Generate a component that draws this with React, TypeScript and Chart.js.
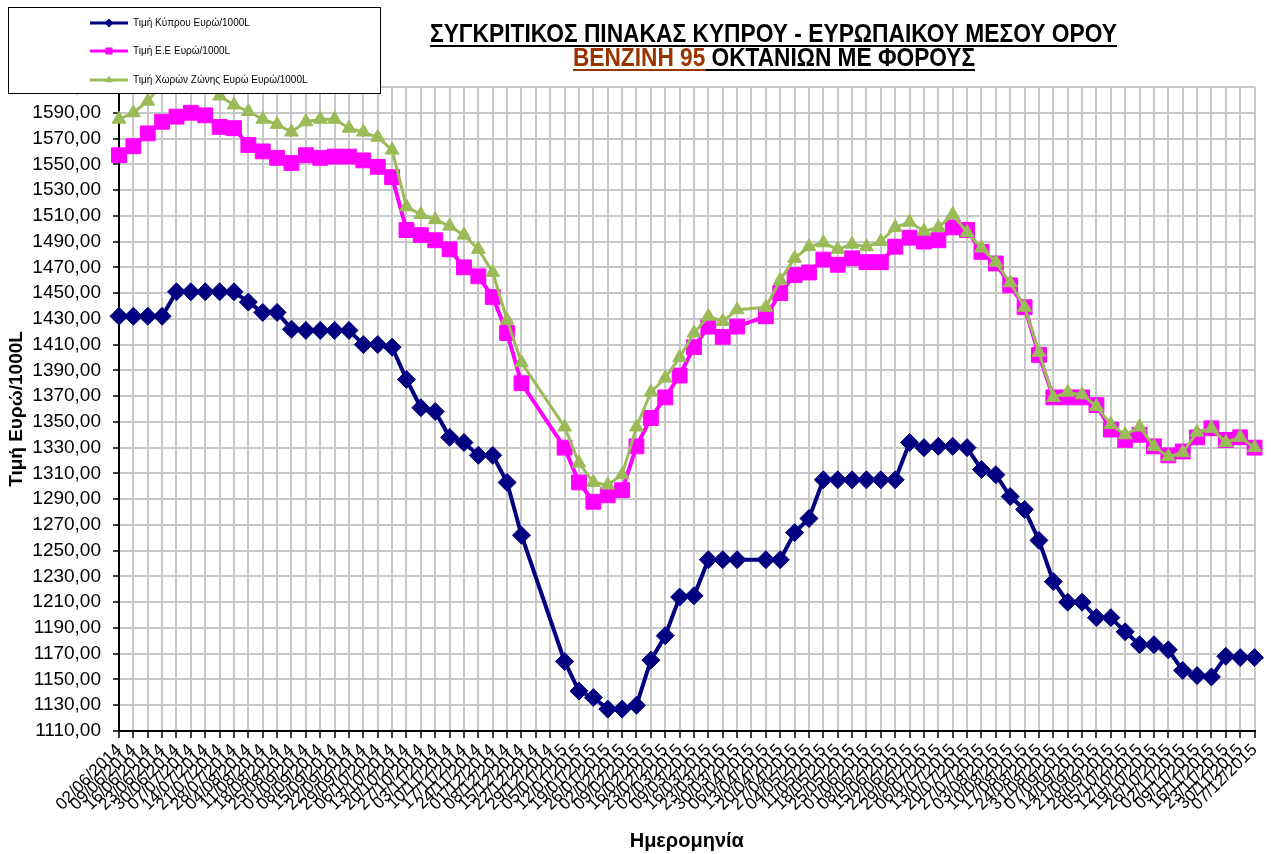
import React, { useEffect, useRef } from 'react';
import { Chart, registerables } from 'chart.js';

Chart.register(...registerables);

// ---------- DATA ----------
const dateLabels: string[] = [
  '02/06/2014', '09/06/2014', '16/06/2014', '23/06/2014', '30/06/2014', '07/07/2014', '14/07/2014', '21/07/2014',
  '28/07/2014', '04/08/2014', '11/08/2014', '18/08/2014', '25/08/2014', '01/09/2014', '08/09/2014', '15/09/2014',
  '22/09/2014', '29/09/2014', '06/10/2014', '13/10/2014', '20/10/2014', '27/10/2014', '03/11/2014', '10/11/2014',
  '17/11/2014', '24/11/2014', '01/12/2014', '08/12/2014', '15/12/2014', '22/12/2014', '29/12/2014', '05/01/2015',
  '12/01/2015', '19/01/2015', '26/01/2015', '02/02/2015', '09/02/2015', '16/02/2015', '23/02/2015', '02/03/2015',
  '09/03/2015', '16/03/2015', '23/03/2015', '30/03/2015', '06/04/2015', '13/04/2015', '20/04/2015', '27/04/2015',
  '04/05/2015', '11/05/2015', '18/05/2015', '25/05/2015', '01/06/2015', '08/06/2015', '15/06/2015', '22/06/2015',
  '29/06/2015', '06/07/2015', '13/07/2015', '20/07/2015', '27/07/2015', '03/08/2015', '10/08/2015', '17/08/2015',
  '24/08/2015', '31/08/2015', '07/09/2015', '14/09/2015', '21/09/2015', '28/09/2015', '05/10/2015', '12/10/2015',
  '19/10/2015', '26/10/2015', '02/11/2015', '09/11/2015', '16/11/2015', '23/11/2015', '30/11/2015', '07/12/2015',
];

const cyprusPrice: (number | null)[] = [
  1432, 1432, 1432, 1432, 1451, 1451, 1451, 1451, 1451, 1443, 1435, 1435, 1422, 1421, 1421, 1421,
  1421, 1410, 1410, 1408, 1383, 1361, 1358, 1338, 1334, 1324, 1324, 1303, 1262, null, null, 1164,
  1141, 1136, 1127, 1127, 1130, 1165, 1184, 1214, 1215, 1243, 1243, 1243, null, 1243, 1243, 1264,
  1275, 1305, 1305, 1305, 1305, 1305, 1305, 1334, 1330, 1331, 1331, 1330, 1313, 1309, 1292, 1282,
  1258, 1226, 1210, 1210, 1198, 1198, 1187, 1177, 1177, 1173, 1157, 1153, 1152, 1168, 1167, 1167,
];

const euPrice: (number | null)[] = [
  1557, 1564, 1574, 1583, 1587, 1590, 1588, 1579, 1578, 1565, 1560, 1555, 1551, 1557, 1555, 1556,
  1556, 1553, 1548, 1540, 1499, 1495, 1491, 1484, 1470, 1463, 1447, 1419, 1380, null, null, 1330,
  1303, 1288, 1293, 1297, 1331, 1353, 1369, 1386, 1408, 1424, 1416, 1424, null, 1432, 1450, 1464,
  1466, 1476, 1472, 1477, 1474, 1474, 1486, 1493, 1490, 1491, 1501, 1499, 1482, 1473, 1456, 1439,
  1402, 1369, 1369, 1369, 1363, 1344, 1336, 1340, 1331, 1324, 1327, 1338, 1345, 1336, 1338, 1330,
];

const euroZonePrice: (number | null)[] = [
  1585, 1590, 1599, 1613, 1616, 1616, 1613, 1603, 1596, 1591, 1585, 1581, 1575, 1583, 1585, 1585,
  1578, 1575, 1571, 1561, 1517, 1511, 1507, 1502, 1495, 1484, 1466, 1429, 1396, null, null, 1346,
  1318, 1303, 1301, 1309, 1346, 1373, 1384, 1400, 1419, 1432, 1428, 1437, null, 1439, 1460, 1477,
  1486, 1489, 1484, 1488, 1486, 1490, 1501, 1505, 1498, 1501, 1511, 1497, 1485, 1474, 1458, 1439,
  1404, 1369, 1373, 1371, 1362, 1348, 1340, 1346, 1331, 1323, 1326, 1342, 1345, 1334, 1338, 1330,
];

const seriesNames: string[] = [
  'Τιμή Κύπρου Ευρώ/1000L',
  'Τιμή Ε.Ε Ευρώ/1000L',
  'Τιμή Χωρών Ζώνης Ευρώ Ευρώ/1000L',
];
const seriesColors: string[] = ['#000080', '#FF00FF', '#9BBB59'];

const yMin = 1110;
const yMax = 1610;
const yStep = 20;

const titleLine1 = 'ΣΥΓΚΡΙΤΙΚΟΣ ΠΙΝΑΚΑΣ ΚΥΠΡΟΥ - ΕΥΡΩΠΑΙΚΟΥ ΜΕΣΟΥ ΟΡΟΥ';
const titleLine2Colored = 'ΒΕΝΖΙΝΗ 95';
const titleLine2Rest = ' ΟΚΤΑΝΙΩΝ ΜΕ ΦΟΡΟΥΣ';
const yAxisTitle = 'Τιμή Ευρώ/1000L';
const xAxisTitle = 'Ημερομηνία';

const BASE_FONT = '"Liberation Sans", Arial, sans-serif';
const TITLE_FONT = 'bold 25px "Liberation Sans", Arial, sans-serif';

type Seg = { text: string; color: string };

function drawFittedLine(ctx: CanvasRenderingContext2D, segs: Seg[], cx: number, baseline: number, targetW: number) {
  ctx.save();
  ctx.font = TITLE_FONT;
  ctx.textBaseline = 'alphabetic';
  ctx.textAlign = 'left';
  const widths = segs.map((s) => ctx.measureText(s.text).width);
  const total = widths.reduce((a, b) => a + b, 0);
  const sx = targetW / total;
  ctx.translate(cx - targetW / 2, baseline);
  ctx.scale(sx, 1);
  let x = 0;
  segs.forEach((s, i) => {
    ctx.fillStyle = s.color;
    ctx.fillText(s.text, x, 0);
    ctx.fillRect(x, 3, widths[i], 2);
    x += widths[i];
  });
  ctx.restore();
}

const titlePlugin = {
  id: 'customTitle',
  afterDraw(chart: any) {
    const ctx: CanvasRenderingContext2D = chart.ctx;
    drawFittedLine(ctx, [{ text: titleLine1, color: '#000000' }], 773.5, 42, 687);
    drawFittedLine(
      ctx,
      [
        { text: titleLine2Colored, color: '#993300' },
        { text: titleLine2Rest, color: '#000000' },
      ],
      774,
      66,
      402
    );
  },
};

function drawMarker(ctx: CanvasRenderingContext2D, kind: number, cx: number, cy: number, color: string) {
  ctx.fillStyle = color;
  ctx.beginPath();
  if (kind === 0) {
    const r = 4.5;
    ctx.moveTo(cx, cy - r);
    ctx.lineTo(cx + r, cy);
    ctx.lineTo(cx, cy + r);
    ctx.lineTo(cx - r, cy);
    ctx.closePath();
  } else if (kind === 1) {
    ctx.rect(cx - 3.5, cy - 3.5, 7, 7);
  } else {
    const r = 4.5;
    ctx.moveTo(cx, cy - r);
    ctx.lineTo(cx + r * 0.866, cy + r * 0.5);
    ctx.lineTo(cx - r * 0.866, cy + r * 0.5);
    ctx.closePath();
  }
  ctx.fill();
}

const legendPlugin = {
  id: 'customLegend',
  afterDraw(chart: any) {
    const ctx: CanvasRenderingContext2D = chart.ctx;
    ctx.save();
    ctx.fillStyle = '#ffffff';
    ctx.fillRect(8, 7, 372, 86);
    ctx.strokeStyle = '#000000';
    ctx.lineWidth = 1;
    ctx.strokeRect(8.5, 7.5, 372, 86);
    const rows = [23, 51, 80];
    ctx.font = `10px ${BASE_FONT}`;
    ctx.textBaseline = 'middle';
    ctx.textAlign = 'left';
    seriesNames.forEach((name, i) => {
      const y = rows[i];
      ctx.strokeStyle = seriesColors[i];
      ctx.lineWidth = 3;
      ctx.beginPath();
      ctx.moveTo(90, y);
      ctx.lineTo(128, y);
      ctx.stroke();
      drawMarker(ctx, i, 109, y, seriesColors[i]);
      ctx.fillStyle = '#000000';
      ctx.fillText(name, 133, y + 0.5);
    });
    ctx.restore();
  },
};

export default function App() {
  const canvasRef = useRef<HTMLCanvasElement | null>(null);

  useEffect(() => {
    if (!canvasRef.current) return;
    const chart = new Chart(canvasRef.current, {
      type: 'line',
      data: {
        labels: dateLabels,
        datasets: [
          {
            label: seriesNames[0],
            data: cyprusPrice,
            borderColor: seriesColors[0],
            backgroundColor: seriesColors[0],
            pointBackgroundColor: seriesColors[0],
            pointBorderColor: seriesColors[0],
            borderWidth: 4,
            pointStyle: 'rectRot',
            pointRadius: 9,
            pointBorderWidth: 1,
            spanGaps: true,
            tension: 0,
            order: 3,
          },
          {
            label: seriesNames[1],
            data: euPrice,
            borderColor: seriesColors[1],
            backgroundColor: seriesColors[1],
            pointBackgroundColor: seriesColors[1],
            pointBorderColor: seriesColors[1],
            borderWidth: 4,
            pointStyle: 'rect',
            pointRadius: 10.5,
            pointBorderWidth: 1,
            spanGaps: true,
            tension: 0,
            order: 2,
          },
          {
            label: seriesNames[2],
            data: euroZonePrice,
            borderColor: seriesColors[2],
            backgroundColor: seriesColors[2],
            pointBackgroundColor: seriesColors[2],
            pointBorderColor: seriesColors[2],
            borderWidth: 3,
            pointStyle: 'triangle',
            pointRadius: 8,
            pointBorderWidth: 1,
            spanGaps: true,
            tension: 0,
            order: 1,
          },
        ],
      },
      options: {
        animation: false,
        responsive: false,
        maintainAspectRatio: false,
        layout: { padding: { top: 87, right: 13, left: 0, bottom: 0 } },
        plugins: {
          legend: { display: false },
          title: { display: false },
          tooltip: { enabled: false },
        },
        scales: {
          x: {
            type: 'category',
            offset: false,
            grid: {
              color: '#c8c8c8',
              lineWidth: 2,
              offset: false,
              tickLength: 7,
              tickColor: '#000000',
              tickWidth: 1.5,
            },
            border: { color: '#000000', width: 2 },
            ticks: {
              autoSkip: false,
              maxRotation: 45,
              minRotation: 45,
              padding: 2,
              color: '#000000',
              font: { family: BASE_FONT, size: 17 },
            },
            title: {
              display: true,
              text: xAxisTitle,
              color: '#000000',
              font: { family: BASE_FONT, size: 20, weight: 'bold' },
              padding: { top: 0, bottom: 1 },
            },
            afterFit: (s: any) => {
              s.height = 123;
            },
          },
          y: {
            min: yMin,
            max: yMax,
            grid: {
              color: '#c8c8c8',
              lineWidth: 2,
              tickLength: 6,
              tickColor: '#000000',
              tickWidth: 1.5,
            },
            border: { color: '#000000', width: 2 },
            ticks: {
              stepSize: yStep,
              autoSkip: false,
              padding: 12,
              color: '#000000',
              font: { family: BASE_FONT, size: 19 },
              callback: (v: any) => Number(v).toFixed(2).replace('.', ','),
            },
            title: {
              display: true,
              text: yAxisTitle,
              color: '#000000',
              font: { family: BASE_FONT, size: 19, weight: 'bold' },
              padding: { top: 5, bottom: 0 },
            },
            afterFit: (s: any) => {
              s.width = 119;
            },
          },
        },
      },
      plugins: [titlePlugin, legendPlugin],
    } as any);
    return () => chart.destroy();
  }, []);

  return (
    <div style={{ position: 'fixed', left: 0, top: 0, width: '1271px', height: '854px', background: '#ffffff' }}>
      <canvas ref={canvasRef} width={1271} height={854} style={{ display: 'block' }} />
    </div>
  );
}
